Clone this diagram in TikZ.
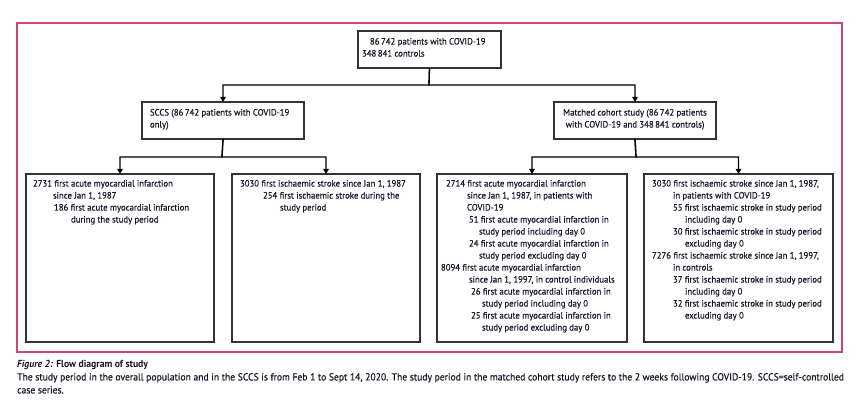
\documentclass[tikz,border=0pt]{standalone}
\usepackage{fontspec}
\setmainfont{PT Sans}[FakeStretch=0.95,UprightFeatures={FakeBold=0.35}]
\usetikzlibrary{arrows.meta}
\definecolor{framecol}{RGB}{204,72,112}
\definecolor{ink}{RGB}{22,22,42}
\begin{document}
\begin{tikzpicture}[x=1pt,y=-1pt,
  box/.style={draw=black!80,line width=1.1pt,inner sep=0pt,outer sep=0pt,anchor=north west},
  txt/.style={inner sep=0pt,outer sep=0pt,anchor=north west,align=left,text=ink,
    font=\fontsize{9.2pt}{12pt}\selectfont},
  conn/.style={draw=black,line width=1.3pt},
  arr/.style={conn,-{Triangle[length=5pt,width=5.5pt]}}]
\useasboundingbox (0,0) rectangle (860,403);
% outer frame
\draw[framecol,line width=1.6pt] (17,23) rectangle (842,352);
% top box
\node[box,minimum width=143pt,minimum height=37pt] (top) at (358,31) {};
\node[txt] (ttop) at (362,38) {\hspace*{8pt}86\,742 patients with COVID-19\\348\,841 controls};
% second level
\node[box,minimum width=162pt,minimum height=37pt] (sccs) at (142,102) {};
\node[txt] (tsccs) at (150,109) {SCCS (86\,742 patients with COVID-19\\only)};
\node[box,minimum width=162pt,minimum height=37pt] (mat) at (554,102) {};
\node[txt,anchor=north,align=center] (tmat) at (635,109) {Matched cohort study (86\,742 patients\\with COVID-19 and 348\,841 controls)};
% third level
\node[box,minimum width=188pt,minimum height=168pt] (a) at (26,174) {};
\node[box,minimum width=188pt,minimum height=168pt] (b) at (232,174) {};
\node[box,minimum width=190pt,minimum height=168pt] (c) at (437,174) {};
\node[box,minimum width=189pt,minimum height=168pt] (d) at (644,174) {};
\node[txt] (ta) at (33,180) {2731 first acute myocardial infarction\\
\hspace*{20pt}since Jan 1, 1987\\
\hspace*{21pt}186 first acute myocardial infarction\\
\hspace*{38pt}during the study period};
\node[txt] (tb) at (240,180) {3030 first ischaemic stroke since Jan 1, 1987\\
\hspace*{23pt}254 first ischaemic stroke during the\\
\hspace*{40pt}study period};
\node[txt] (tc) at (441,180) {\hspace*{5pt}2714 first acute myocardial infarction\\
\hspace*{26pt}since Jan 1, 1987, in patients with\\
\hspace*{26pt}COVID-19\\
\hspace*{28pt}51 first acute myocardial infarction in\\
\hspace*{38pt}study period including day 0\\
\hspace*{28pt}24 first acute myocardial infarction in\\
\hspace*{38pt}study period excluding day 0\\
8094 first acute myocardial infarction\\
\hspace*{28pt}since Jan 1, 1997, in control individuals\\
\hspace*{30pt}26 first acute myocardial infarction in\\
\hspace*{41pt}study period including day 0\\
\hspace*{30pt}25 first acute myocardial infarction in\\
\hspace*{41pt}study period excluding day 0};
\node[txt] (td) at (652,180) {3030 first ischaemic stroke since Jan 1, 1987,\\
\hspace*{21pt}in patients with COVID-19\\
\hspace*{21pt}55 first ischaemic stroke in study period\\
\hspace*{33pt}including day 0\\
\hspace*{21pt}30 first ischaemic stroke in study period\\
\hspace*{33pt}excluding day 0\\
7276 first ischaemic stroke since Jan 1, 1997,\\
\hspace*{21pt}in controls\\
\hspace*{21pt}37 first ischaemic stroke in study period\\
\hspace*{33pt}including day 0\\
\hspace*{21pt}32 first ischaemic stroke in study period\\
\hspace*{33pt}excluding day 0};
% connectors
\coordinate (j1) at (429,85);
\coordinate (j2) at (222,157);
\coordinate (j3) at (636,157);
\draw[arr] (top.south) -- (j1) -| (sccs.north);
\draw[arr] (top.south) -- (j1) -| (mat.north);
\draw[arr] (sccs.south) -- (j2) -| (a.north);
\draw[arr] (sccs.south) -- (j2) -| (b.north);
\draw[arr] (mat.south) -- (j3) -| (c.north);
\draw[arr] (mat.south) -- (j3) -| (d.north);
% caption
\node[anchor=base west,inner sep=0pt,text=ink,font=\fontsize{10.2pt}{12pt}\selectfont\bfseries] (cap1) at (17,368) {\textit{Figure 2:} Flow diagram of study};
\node[anchor=north west,inner sep=0pt,text=ink,align=left,font=\fontsize{10.15pt}{13pt}\selectfont] (cap2) at (17,373) {The study period in the overall population and in the SCCS is from Feb 1 to Sept 14, 2020. The study period in the matched cohort study refers to the 2 weeks following COVID-19. SCCS=self-controlled\\case series.};
\end{tikzpicture}
\end{document}
